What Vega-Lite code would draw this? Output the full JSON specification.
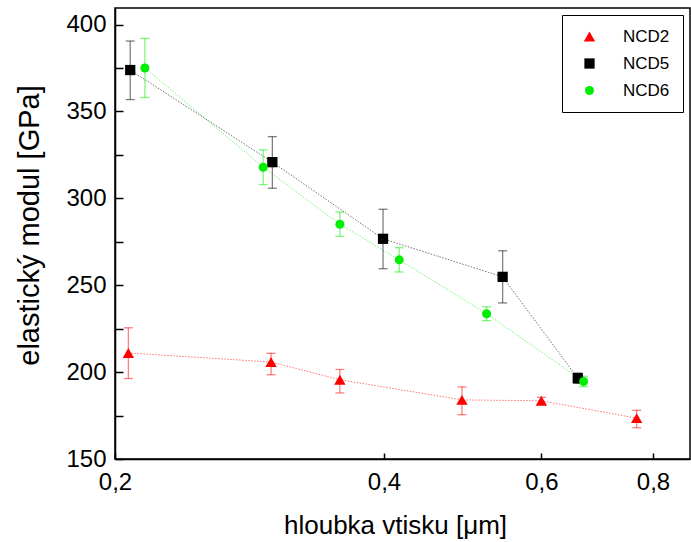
{
  "$schema": "https://vega.github.io/schema/vega-lite/v6.json",
  "autosize": {"type": "none"},
  "padding": {"left": 115, "top": 8, "right": 1, "bottom": 83},
  "width": 575,
  "height": 451,
  "background": "white",
  "config": {
    "font": "Liberation Sans",
    "view": {"stroke": "black", "strokeWidth": 1.5},
    "axis": {"grid": false, "domainColor": "black", "domainWidth": 1.5, "tickColor": "black", "tickWidth": 1.5, "labelColor": "black", "titleColor": "black", "labelFont": "Liberation Sans", "titleFont": "Liberation Sans", "titleFontWeight": "normal", "labelFontSize": 24}
  },
  "data": {"values": [
    {"series": "NCD2", "depth": 0.207, "modulus": 211.0, "lo": 196.3, "hi": 225.5},
    {"series": "NCD2", "depth": 0.299, "modulus": 205.8, "lo": 198.5, "hi": 210.8},
    {"series": "NCD2", "depth": 0.357, "modulus": 195.6, "lo": 188.0, "hi": 201.5},
    {"series": "NCD2", "depth": 0.489, "modulus": 184.0, "lo": 175.5, "hi": 191.5},
    {"series": "NCD2", "depth": 0.600, "modulus": 183.5, "lo": 181.5, "hi": 185.5},
    {"series": "NCD2", "depth": 0.767, "modulus": 173.5, "lo": 168.0, "hi": 178.0},
    {"series": "NCD5", "depth": 0.208, "modulus": 373.8, "lo": 356.8, "hi": 390.5},
    {"series": "NCD5", "depth": 0.300, "modulus": 320.8, "lo": 305.8, "hi": 335.5},
    {"series": "NCD5", "depth": 0.399, "modulus": 276.7, "lo": 259.5, "hi": 293.7},
    {"series": "NCD5", "depth": 0.543, "modulus": 254.8, "lo": 239.8, "hi": 269.8},
    {"series": "NCD5", "depth": 0.659, "modulus": 196.5, "lo": 193.5, "hi": 199.5},
    {"series": "NCD6", "depth": 0.216, "modulus": 375.0, "lo": 358.0, "hi": 392.0},
    {"series": "NCD6", "depth": 0.293, "modulus": 317.9, "lo": 307.9, "hi": 327.9},
    {"series": "NCD6", "depth": 0.357, "modulus": 285.1, "lo": 278.1, "hi": 292.1},
    {"series": "NCD6", "depth": 0.416, "modulus": 264.6, "lo": 257.6, "hi": 271.6},
    {"series": "NCD6", "depth": 0.521, "modulus": 233.6, "lo": 229.6, "hi": 237.6},
    {"series": "NCD6", "depth": 0.669, "modulus": 194.6, "lo": 191.6, "hi": 197.6}
  ]},
  "encoding": {
    "x": {"field": "depth", "type": "quantitative",
      "scale": {"type": "log", "domain": [0.2, 0.88], "nice": false, "zero": false},
      "axis": {"title": "hloubka vtisku [μm]", "titleFontSize": 26, "titleX": 280, "values": [0.2, 0.4, 0.6, 0.8], "labelExpr": "replace(format(datum.value, '.1f'), '.', ',')", "tickSize": -6, "labelPadding": 17, "titlePadding": 18, "labelFlush": false}},
    "y": {"field": "modulus", "type": "quantitative",
      "scale": {"domain": [150, 409.5], "nice": false, "zero": false},
      "axis": {"title": "elastický modul [GPa]", "titleFontSize": 29, "titleY": 217, "values": [150, 175, 200, 225, 250, 275, 300, 325, 350, 375, 400], "labelExpr": "datum.value % 50 === 0 ? datum.value : ''", "tickSize": -8, "labelPadding": 17, "titlePadding": 21}},
    "color": {"field": "series", "type": "nominal",
      "scale": {"domain": ["NCD2", "NCD5", "NCD6"], "range": ["#ff0000", "#000000", "#00ee00"]},
      "legend": {"title": null, "orient": "top-right", "offset": 7, "strokeColor": "black", "fillColor": "white", "padding": 13, "labelFontSize": 17, "labelFont": "Liberation Sans", "labelColor": "black", "symbolSize": 120, "symbolOpacity": 1, "symbolStrokeWidth": 0, "labelOffset": 25, "rowPadding": 9, "symbolOffset": 6}}
  },
  "layer": [
    {"mark": {"type": "line", "strokeWidth": 1, "strokeDash": [1.5, 1.5], "opacity": 0.55}},
    {"mark": {"type": "rule", "strokeWidth": 1.3, "opacity": 0.5},
     "encoding": {"y": {"field": "lo", "type": "quantitative"}, "y2": {"field": "hi"}}},
    {"mark": {"type": "tick", "orient": "horizontal", "size": 9, "thickness": 1.3, "opacity": 0.5},
     "encoding": {"y": {"field": "lo", "type": "quantitative"}}},
    {"mark": {"type": "tick", "orient": "horizontal", "size": 9, "thickness": 1.3, "opacity": 0.5},
     "encoding": {"y": {"field": "hi", "type": "quantitative"}}},
    {"mark": {"type": "point", "filled": true, "opacity": 1, "size": 80},
     "encoding": {
       "shape": {"field": "series", "type": "nominal", "scale": {"domain": ["NCD2", "NCD5", "NCD6"], "range": ["triangle-up", "square", "circle"]}},
       "size": {"field": "series", "type": "nominal", "scale": {"domain": ["NCD2", "NCD5", "NCD6"], "range": [130, 81, 70]}, "legend": null}
     }}
  ]
}
